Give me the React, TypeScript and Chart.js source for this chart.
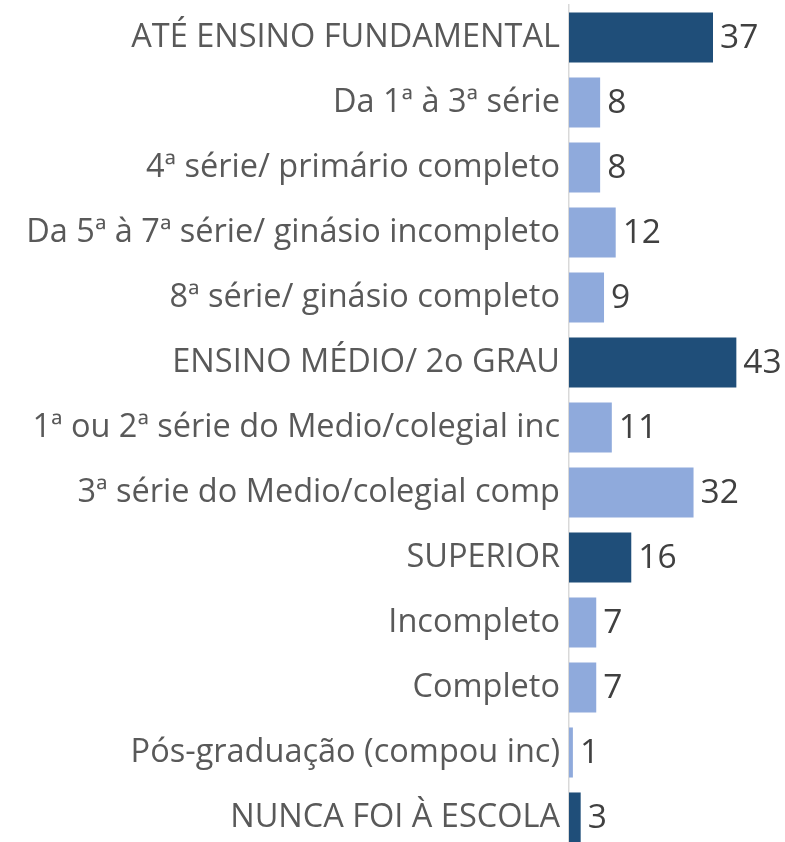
import React, { useEffect, useRef } from "react";
import { Chart, registerables } from "chart.js";

Chart.register(...registerables);

const categories: string[] = [
  "ATÉ ENSINO FUNDAMENTAL",
  "Da 1ª à 3ª série",
  "4ª série/ primário completo",
  "Da 5ª à 7ª série/ ginásio incompleto",
  "8ª série/ ginásio completo",
  "ENSINO MÉDIO/ 2o GRAU",
  "1ª ou 2ª série do Medio/colegial inc",
  "3ª série do Medio/colegial comp",
  "SUPERIOR",
  "Incompleto",
  "Completo",
  "Pós-graduação (compou inc)",
  "NUNCA FOI À ESCOLA",
];

const values: number[] = [37, 8, 8, 12, 9, 43, 11, 32, 16, 7, 7, 1, 3];

const isGroup: boolean[] = [true, false, false, false, false, true, false, false, true, false, false, false, true];

const DARK = "#1F4E79";
const LIGHT = "#8FAADC";
const FONT = "'Open Sans'";

const valueLabels = {
  id: "valueLabels",
  afterDatasetsDraw(chart: any) {
    const ctx = chart.ctx;
    const meta = chart.getDatasetMeta(0);
    ctx.save();
    ctx.font = `33.5px ${FONT}`;
    ctx.fillStyle = "#404040";
    ctx.textAlign = "left";
    ctx.textBaseline = "middle";
    meta.data.forEach((bar: any, i: number) => {
      ctx.fillText(String(values[i]), bar.x + 7, bar.y + 1);
    });
    ctx.restore();
  },
};

export default function App() {
  const ref = useRef<HTMLCanvasElement | null>(null);

  useEffect(() => {
    if (!ref.current) return;
    const chart = new Chart(ref.current, {
      type: "bar",
      data: {
        labels: categories,
        datasets: [
          {
            data: values,
            backgroundColor: isGroup.map((g) => (g ? DARK : LIGHT)),
            borderWidth: 0,
            categoryPercentage: 1,
            barPercentage: 0.77,
          },
        ],
      },
      options: {
        indexAxis: "y",
        responsive: false,
        animation: false,
        layout: { padding: { top: 5, bottom: 0, left: 0, right: 0 } },
        plugins: {
          legend: { display: false },
          tooltip: { enabled: false },
        },
        scales: {
          x: {
            display: false,
            min: 0,
            max: 55.5,
          },
          y: {
            afterFit: (scale: any) => {
              scale.width = 569;
              scale.paddingTop = 0;
              scale.paddingBottom = 0;
            },
            grid: { display: false, drawTicks: false },
            border: { display: true, color: "#D9D9D9", width: 1.5 },
            ticks: {
              padding: 9,
              color: "#595959",
              font: { family: FONT, size: 32.5 },
              autoSkip: false,
            },
          },
        },
      },
      plugins: [valueLabels],
    });
    return () => chart.destroy();
  }, []);

  return (
    <div
      style={{
        position: "fixed",
        top: 0,
        left: 0,
        width: 785,
        height: 842,
        overflow: "hidden",
        background: "#fff",
      }}
    >
      <canvas ref={ref} width={785} height={850} style={{ width: 785, height: 850, display: "block" }} />
    </div>
  );
}
